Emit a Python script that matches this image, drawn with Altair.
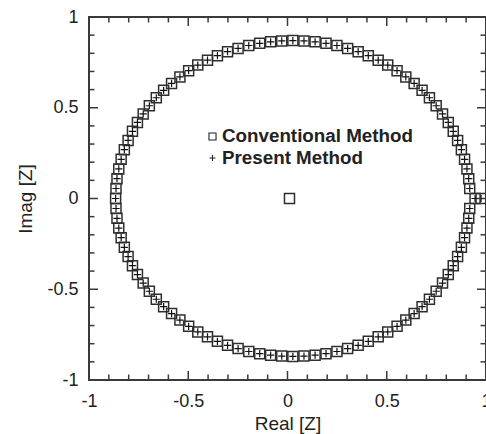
import altair as alt
import pandas as pd

# Roots (both methods share the ring)
ring_x = [0.945, 0.918, 0.913, 0.904, 0.892, 0.876, 0.857, 0.835, 0.810, 0.781,
          0.749, 0.715, 0.678, 0.638, 0.596, 0.552, 0.505, 0.457, 0.407, 0.356,
          0.303, 0.249, 0.194, 0.139, 0.083, 0.027, -0.029, -0.085, -0.140, -0.195,
          -0.249, -0.302, -0.353, -0.403, -0.452, -0.498, -0.542, -0.584, -0.624, -0.661,
          -0.696, -0.727, -0.756, -0.781, -0.803, -0.822, -0.838, -0.850, -0.859, -0.864,
          -0.866,
          -0.864, -0.859, -0.850, -0.838, -0.822, -0.803, -0.781, -0.756, -0.727, -0.696,
          -0.661, -0.624, -0.584, -0.542, -0.498, -0.452, -0.403, -0.353, -0.302, -0.249,
          -0.195, -0.140, -0.085, -0.029, 0.027, 0.083, 0.139, 0.194, 0.249, 0.303,
          0.356, 0.407, 0.457, 0.505, 0.552, 0.596, 0.638, 0.678, 0.715, 0.749,
          0.781, 0.810, 0.835, 0.857, 0.876, 0.892, 0.904, 0.913, 0.918]
ring_y = [0.0, 0.055, 0.109, 0.163, 0.216, 0.269, 0.320, 0.370, 0.419, 0.466,
          0.511, 0.555, 0.596, 0.634, 0.670, 0.704, 0.735, 0.762, 0.787, 0.809,
          0.827, 0.843, 0.855, 0.863, 0.868, 0.870, 0.868, 0.863, 0.855, 0.843,
          0.827, 0.809, 0.787, 0.762, 0.735, 0.704, 0.670, 0.634, 0.596, 0.555,
          0.511, 0.466, 0.419, 0.370, 0.320, 0.269, 0.216, 0.163, 0.109, 0.055,
          0.0,
          -0.055, -0.109, -0.163, -0.216, -0.269, -0.320, -0.370, -0.419, -0.466, -0.511,
          -0.555, -0.596, -0.634, -0.670, -0.704, -0.735, -0.762, -0.787, -0.809, -0.827,
          -0.843, -0.855, -0.863, -0.868, -0.870, -0.868, -0.863, -0.855, -0.843, -0.827,
          -0.809, -0.787, -0.762, -0.735, -0.704, -0.670, -0.634, -0.596, -0.555, -0.511,
          -0.466, -0.419, -0.370, -0.320, -0.269, -0.216, -0.163, -0.109, -0.055]
extra_x = [0.975]
extra_y = [0.0]
conv_only_x = [0.01]
conv_only_y = [0.0]

legend_labels = ["Conventional Method", "Present Method"]
axis_values = [-1, -0.5, 0, 0.5, 1]
major_ticks = [-0.5, 0.0, 0.5]
minor_ticks = [-0.9, -0.8, -0.7, -0.6, -0.4, -0.3, -0.2, -0.1,
               0.1, 0.2, 0.3, 0.4, 0.6, 0.7, 0.8, 0.9]

W, H = 397, 363
FONT = "Liberation Sans"
INK = "#222"
FRAME = "#3a3a3a"

conv = pd.DataFrame({"x": ring_x + extra_x + conv_only_x,
                     "y": ring_y + extra_y + conv_only_y})
pres = pd.DataFrame({"x": ring_x + extra_x, "y": ring_y + extra_y})

xs = alt.Scale(domain=[-1, 1], nice=False, zero=False)
ys = alt.Scale(domain=[-1, 1], nice=False, zero=False)

x_axis = alt.Axis(values=axis_values, title="Real [Z]", labelExpr="'' + datum.value",
                  titleX=W / 2, titleY=49, titleBaseline="alphabetic", labelPadding=12)
y_axis = alt.Axis(values=axis_values, title="Imag [Z]", labelExpr="'' + datum.value",
                  titleX=-58, titleY=H / 2, titleBaseline="alphabetic", titleAngle=270,
                  labelPadding=11)


def X(f):
    return alt.X(f, scale=xs, axis=x_axis)


def Y(f):
    return alt.Y(f, scale=ys, axis=y_axis)


squares = alt.Chart(conv).mark_point(
    shape="square", filled=False, size=100, color="#2e2e2e", strokeWidth=1.5,
    opacity=1, clip=True
).encode(x=X("x:Q"), y=Y("y:Q"))

PLUS = "M-1,0L1,0M0,-1L0,1"
pluses = alt.Chart(pres).mark_point(
    shape=PLUS, filled=False, size=52, color="#111", strokeWidth=1.2,
    opacity=1, clip=True
).encode(x=X("x:Q"), y=Y("y:Q"))

layers = [squares, pluses]


def ticks(vals, side, length):
    df = pd.DataFrame({"x": vals, "y": vals})
    c = alt.Chart(df).mark_rule(color=FRAME, strokeWidth=1.5)
    if side == "bottom":
        return c.encode(x=X("x:Q"), y=alt.value(H), y2=alt.value(H - length))
    if side == "top":
        return c.encode(x=X("x:Q"), y=alt.value(0), y2=alt.value(length))
    if side == "left":
        return c.encode(y=Y("y:Q"), x=alt.value(0), x2=alt.value(length))
    return c.encode(y=Y("y:Q"), x=alt.value(W), x2=alt.value(W - length))


for side in ["bottom", "top", "left", "right"]:
    layers.append(ticks(major_ticks, side, 9))
    layers.append(ticks(minor_ticks, side, 5.5))

# legend (inside plot)
leg_sq = alt.Chart(pd.DataFrame({"t": [legend_labels[0]]})).mark_point(
    shape="square", filled=False, size=50, color="#222", strokeWidth=1.1, opacity=1
).encode(x=alt.value(212.5 - 89), y=alt.value(136.5 - 17))
leg_plus = alt.Chart(pd.DataFrame({"t": [legend_labels[1]]})).mark_point(
    shape=PLUS, filled=False, size=36, color="#222", strokeWidth=1.1, opacity=1
).encode(x=alt.value(212.5 - 89), y=alt.value(158 - 17))
leg_t1 = alt.Chart(pd.DataFrame({"t": [legend_labels[0]]})).mark_text(
    align="left", baseline="alphabetic", font=FONT, fontSize=18.8,
    fontWeight="bold", color=INK
).encode(x=alt.value(222 - 89), y=alt.value(142 - 17), text="t:N")
leg_t2 = alt.Chart(pd.DataFrame({"t": [legend_labels[1]]})).mark_text(
    align="left", baseline="alphabetic", font=FONT, fontSize=18.8,
    fontWeight="bold", color=INK
).encode(x=alt.value(222 - 89), y=alt.value(163.5 - 17), text="t:N")

layers += [leg_sq, leg_plus, leg_t1, leg_t2]

chart = alt.layer(*layers).properties(
    width=W, height=H, autosize="none",
    padding={"left": 89, "top": 17, "right": 0, "bottom": 54},
).configure_view(
    stroke=FRAME, strokeWidth=2
).configure_axis(
    domain=False, ticks=False, grid=False, labelFlush=False,
    labelOverlap=False, labelBound=False,
    labelFont=FONT, labelFontSize=18, labelColor=INK,
    titleFont=FONT, titleFontSize=19, titleFontWeight="normal", titleColor=INK,
)

chart.save("out.html", embed_options={"renderer": "svg", "actions": False})
